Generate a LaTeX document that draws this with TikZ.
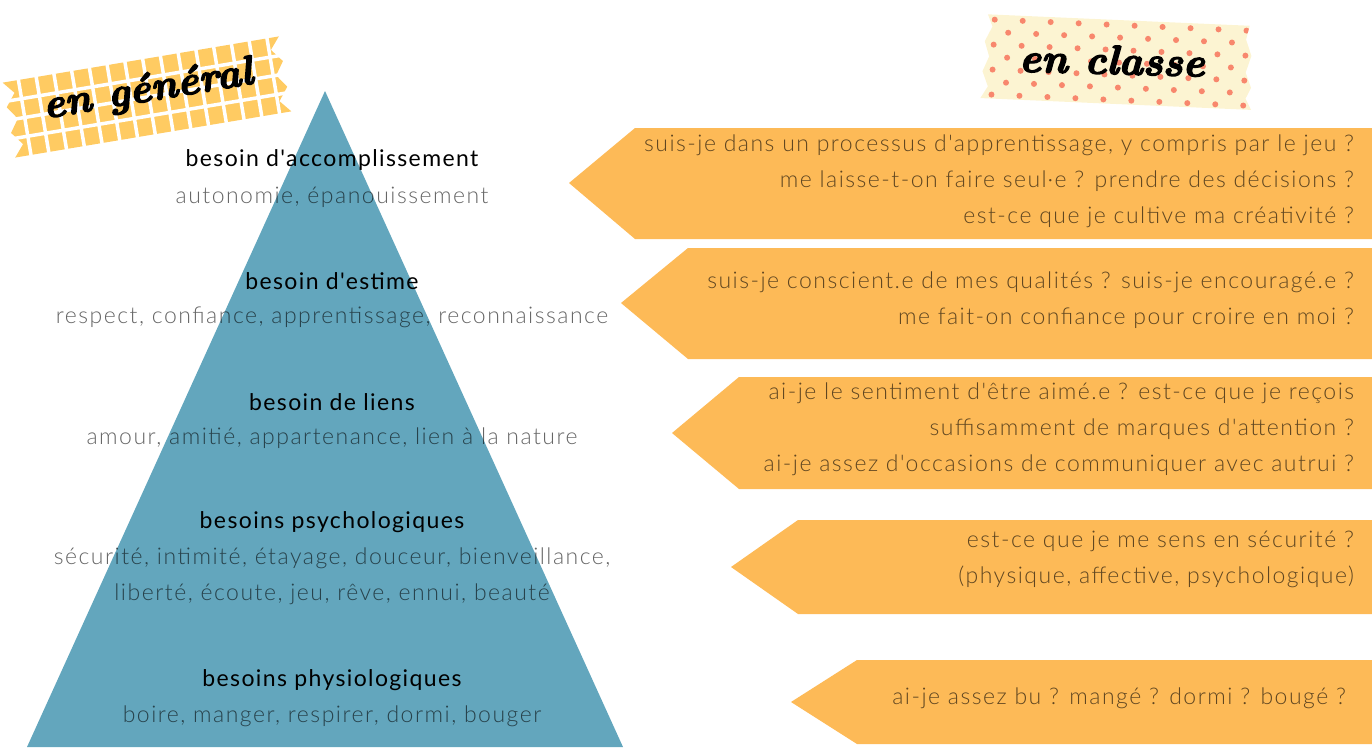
\documentclass[tikz,border=0pt]{standalone}
\usepackage{fontspec}
\newfontfamily\headf{Lato}[LetterSpace=6]
\newfontfamily\lightf{Lato Light}[LetterSpace=6.5]
\newfontfamily\scrf{lmroman10-bolditalic.otf}[FakeBold=3.5]
\definecolor{pyr}{HTML}{63A6BD}
\definecolor{arr}{HTML}{FDBA57}
\definecolor{tapey}{HTML}{FFCB62}
\definecolor{tapec}{HTML}{FCF4D2}
\definecolor{dotc}{HTML}{F8876D}
\begin{document}
\begin{tikzpicture}[x=1pt,y=-1pt,
  head/.style={font=\headf\fontsize{23}{36}\selectfont, text=black, inner sep=0},
  sub/.style={font=\lightf\fontsize{23}{36}\selectfont, text=black, text opacity=0.6, inner sep=0, align=center},
  qtext/.style={font=\lightf\fontsize{23}{36}\selectfont, text=black, text opacity=0.62, inner sep=0, align=right, anchor=east},
  arrowbox/.style={fill=arr},
  scripttxt/.style={font=\scrf\fontsize{41}{41}\selectfont, text=black, inner sep=0}]

\useasboundingbox (0,0) rectangle (1372,747);

% pyramid
\fill[pyr] (325,91) -- (623,747) -- (27,747) -- cycle;

% arrows
\fill[arrowbox] (569,183) -- (635,128) -- (1372,128) -- (1372,239) -- (635,239) -- cycle;
\fill[arrowbox] (621,303) -- (688,248) -- (1372,248) -- (1372,359) -- (688,359) -- cycle;
\fill[arrowbox] (672,433) -- (739,377) -- (1372,377) -- (1372,489) -- (739,489) -- cycle;
\fill[arrowbox] (731,567) -- (798,520) -- (1372,520) -- (1372,614) -- (798,614) -- cycle;
\fill[arrowbox] (791,702) -- (857,660) -- (1372,660) -- (1372,744) -- (857,744) -- cycle;

% pyramid texts
\node[head] (h1) at (332,160) {besoin d'accomplissement};
\node[sub]  (s1) at (332,197) {autonomie, épanouissement};
\node[head] (h2) at (332,281) {besoin d'estime};
\node[sub]  (s2) at (332,317) {respect, confiance, apprentissage, reconnaissance};
\node[head] (h3) at (332,402) {besoin de liens};
\node[sub]  (s3) at (332,438) {amour, amitié, appartenance, lien à la nature};
\node[head] (h4) at (332,522) {besoins psychologiques};
\node[sub]  (s4) at (332,576) {sécurité, intimité, étayage, douceur, bienveillance,\\liberté, écoute, jeu, rêve, ennui, beauté};
\node[head] (h5) at (332,680) {besoins physiologiques};
\node[sub]  (s5) at (332,716) {boire, manger, respirer, dormi, bouger};

% question texts
\node[qtext] (q1) at (1354,181) {suis-je dans un processus d'apprentissage, y compris par le jeu ?\\me laisse-t-on faire seul·e ? prendre des décisions ?\\est-ce que je cultive ma créativité ?};
\node[qtext] (q2) at (1354,300) {suis-je conscient.e de mes qualités ? suis-je encouragé.e ?\\me fait-on confiance pour croire en moi ?};
\node[qtext] (q3) at (1354,429) {ai-je le sentiment d'être aimé.e ? est-ce que je reçois\\suffisamment de marques d'attention ?\\ai-je assez d'occasions de communiquer avec autrui ?};
\node[qtext] (q4) at (1354,559) {est-ce que je me sens en sécurité ?\\(physique, affective, psychologique)};
\node[qtext] (q5) at (1346,698) {ai-je assez bu ? mangé ? dormi ? bougé ?};

% tape "en général"
\begin{scope}[shift={(147,97)}, rotate=9.5]
  \path[fill=tapey] (-140,-38) -- (140,-38) -- (130,-26) -- (140,-13) -- (131,0) -- (140,13) -- (130,26) -- (140,38)
     -- (-140,38) -- (-130,26) -- (-140,13) -- (-131,0) -- (-140,-13) -- (-130,-26) -- cycle;
  \foreach \gx in {-124,-106,...,130} \draw[white, line width=3.5pt] (\gx,-45) -- (\gx,45);
  \foreach \gy in {-19,0,19} \draw[white, line width=3.5pt] (-145,\gy) -- (145,\gy);
\end{scope}
\node[scripttxt, rotate=9.5] (t1) at (148,91) {en général};

% tape "en classe"
\begin{scope}[shift={(1117,62)}, rotate=-2.5]
  \path[fill=tapec] (-131,-42) -- (131,-42) -- (128,-28) -- (134,-12) -- (129,5) -- (135,20) -- (130,31) -- (136,42)
     -- (-135,42) -- (-128,30) -- (-134,15) -- (-128,0) -- (-133,-15) -- (-126,-30) -- cycle;
  \begin{scope}
    \clip (-131,-42) -- (131,-42) -- (128,-28) -- (134,-12) -- (129,5) -- (135,20) -- (130,31) -- (136,42)
     -- (-135,42) -- (-128,30) -- (-134,15) -- (-128,0) -- (-133,-15) -- (-126,-30) -- cycle;
    \foreach \k in {0,...,6} {
      \pgfmathsetmacro{\off}{mod(\k,2)*14}
      \foreach \i in {0,...,9} {
        \fill[dotc] (-124+28*\i+\off, -37+12.5*\k) circle (3);
      }
    }
  \end{scope}
\end{scope}
\node[scripttxt, rotate=-1.5] (t2) at (1112,60) {en classe};

\end{tikzpicture}
\end{document}
